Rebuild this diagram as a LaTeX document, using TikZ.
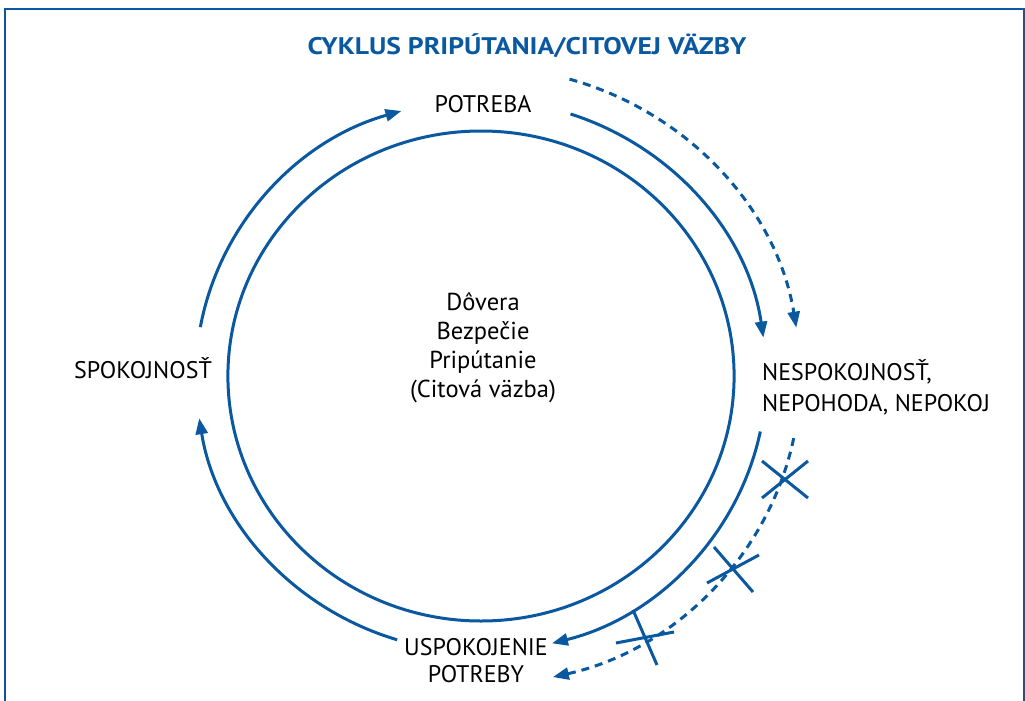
\documentclass[tikz,border=0pt]{standalone}
\usepackage{fontspec}
\setmainfont{PT Sans}
\newfontfamily\titlefont{PT Sans}[FakeStretch=1.15]
\usetikzlibrary{arrows.meta}
\definecolor{cblue}{RGB}{10,88,160}
\begin{document}
\begin{tikzpicture}[x=1pt,y=1pt,
  arcline/.style={cblue,line width=3pt},
  tipend/.style={-{Triangle[length=16pt,width=12pt]}},
  dasharc/.style={cblue,line width=3pt,dash pattern=on 8pt off 6pt},
  lbl/.style={font=\fontsize{24}{29}\selectfont,inner sep=0pt,text=black},
  xmark/.style={cblue,line width=3pt}]
\useasboundingbox (0,0) rectangle (1025,-701);
\draw[cblue,line width=2pt] (5.2,-705)--(5.2,-9.2)--(1023.8,-9.2)--(1023.8,-705);
\node[font=\titlefont\fontsize{24}{26}\selectfont\bfseries,text=cblue,inner sep=0pt,anchor=base] (title) at (527,-54.5) {CYKLUS PRIPÚTANIA/CITOVEJ VÄZBY};
\begin{scope}[shift={(481,-376)},xscale=1.033]
  \draw[arcline] (0,0) circle[radius=245];
  \coordinate (s1) at (71.7:276);
  \coordinate (s2) at (-11.6:276);
  \coordinate (s3) at (-107.1:276);
  \coordinate (s4) at (169.8:276);
  \coordinate (d1) at (73.9:309);
  \coordinate (d2) at (-11.6:309);
  \draw[arcline,tipend] (s1) arc[start angle=71.7,end angle=8,radius=276];
  \draw[arcline,tipend] (s2) arc[start angle=-11.6,end angle=-75.6,radius=276];
  \draw[arcline,tipend] (s3) arc[start angle=-107.1,end angle=-171.2,radius=276];
  \draw[arcline,tipend] (s4) arc[start angle=169.8,end angle=106.2,radius=276];
  \draw[dasharc,tipend] (d1) arc[start angle=73.9,end angle=9,radius=309];
  \draw[dasharc,tipend] (d2) arc[start angle=-11.6,end angle=-77,radius=309];
\end{scope}
\draw[xmark] (762,-461)--(808,-498) (762,-498)--(808,-461);
\draw[xmark] (714,-547)--(753,-592) (707,-583)--(759,-555);
\draw[xmark] (633,-610)--(657,-665) (616,-643)--(674,-632);
\node[lbl,anchor=base] (need) at (483,-112) {POTREBA};
\node[lbl,anchor=base] (sat) at (143,-378) {SPOKOJNOSŤ};
\node[lbl,anchor=base west,align=left,font=\fontsize{24}{31.5}\selectfont] (dis) at (762,-411.5) {NESPOKOJNOSŤ,\\NEPOHODA, NEPOKOJ};
\node[lbl,anchor=base,align=center,font=\fontsize{24}{27}\selectfont] (sooth) at (476,-682) {USPOKOJENIE\\POTREBY};
\node[lbl,anchor=base,align=center,font=\fontsize{24.5}{29}\selectfont] (core) at (483,-397) {Dôvera\\Bezpečie\\Pripútanie\\(Citová väzba)};
\end{tikzpicture}
\end{document}
